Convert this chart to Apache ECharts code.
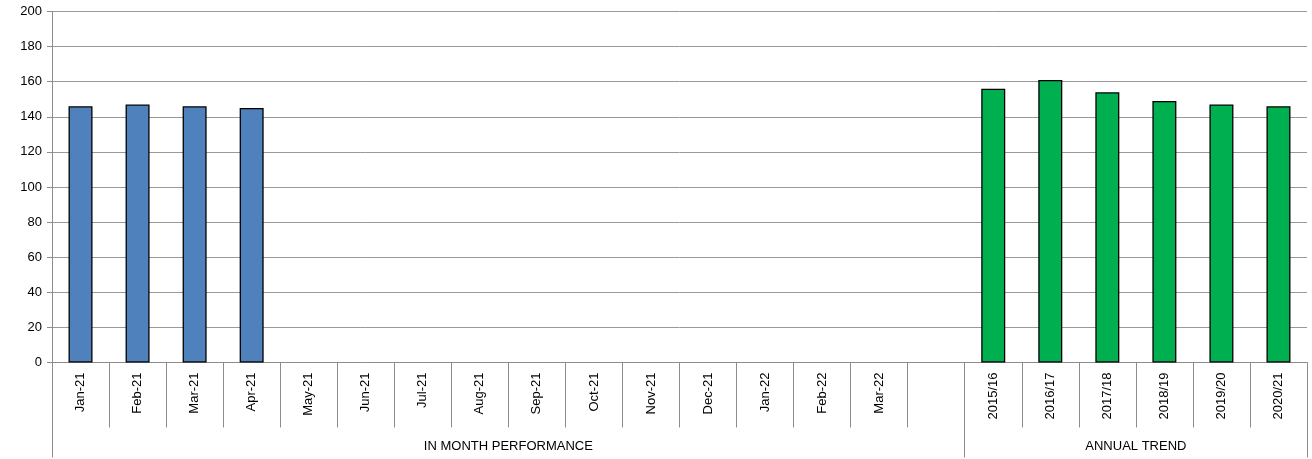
<!DOCTYPE html>
<html>
<head>
<meta charset="utf-8">
<script src="https://cdn.jsdelivr.net/npm/echarts@6/dist/echarts.min.js"></script>
<style>
  html, body { margin: 0; padding: 0; background: #fff; }
  #myChart { width: 1312px; height: 459px; }
</style>
</head>
<body>
<div id="myChart"></div>
<script>
// categories along the x axis (blank slot between the two groups)
var months = ['Jan-21', 'Feb-21', 'Mar-21', 'Apr-21', 'May-21', 'Jun-21', 'Jul-21', 'Aug-21',
  'Sep-21', 'Oct-21', 'Nov-21', 'Dec-21', 'Jan-22', 'Feb-22', 'Mar-22', '']
var years = ['2015/16', '2016/17', '2017/18', '2018/19', '2019/20', '2020/21']
// values
var monthValues = [146, 147, 146, 145, null, null, null, null, null, null, null, null, null, null, null, null]
var yearValues = [156, 161, 154, 149, 147, 146]
// group labels under the axis
var groupNames = ['IN MONTH PERFORMANCE', 'ANNUAL TREND']
var groupSizes = [months.length, years.length]
var yTicks = [0, 20, 40, 60, 80, 100, 120, 140, 160, 180, 200]

var categories = months.concat(years)
var total = categories.length
var blue = monthValues.concat(years.map(function () { return null }))
var green = months.map(function () { return null }).concat(yearValues)

var bounds = [0]
var mids = []
var acc = 0
for (var i = 0; i < groupSizes.length; i++) {
  mids.push(acc + groupSizes[i] / 2)
  acc += groupSizes[i]
  bounds.push(acc)
}

var gray = '#8c8c8c'
var font = 'Liberation Sans'

var myChart = echarts.init(document.getElementById('myChart'))
myChart.setOption({
  animation: false,
  textStyle: { fontFamily: font },
  grid: { left: 52, right: 5, top: 11.5, bottom: 96.5, containLabel: false },
  xAxis: [
    {
      type: 'category',
      data: categories,
      axisLine: { lineStyle: { color: gray, width: 1 } },
      axisTick: { show: true, interval: 0, length: 65, lineStyle: { color: gray } },
      axisLabel: { interval: 0, rotate: 90, margin: 10, color: '#000', fontSize: 13, fontFamily: font }
    },
    {
      type: 'value',
      position: 'bottom',
      min: 0,
      max: total,
      axisLine: { show: false },
      splitLine: { show: false },
      axisTick: { show: true, customValues: bounds, length: 95, lineStyle: { color: gray } },
      axisLabel: {
        customValues: mids,
        margin: 77,
        color: '#000',
        fontSize: 13,
        fontFamily: font,
        formatter: function (v) {
          var k = mids.indexOf(v)
          return k >= 0 ? groupNames[k] : ''
        }
      }
    }
  ],
  yAxis: {
    type: 'value',
    min: yTicks[0],
    max: yTicks[yTicks.length - 1],
    interval: yTicks[1] - yTicks[0],
    axisLine: { show: true, lineStyle: { color: gray } },
    axisTick: { show: true, length: 5, lineStyle: { color: gray } },
    axisLabel: { color: '#000', fontSize: 13, margin: 10, fontFamily: font },
    splitLine: { lineStyle: { color: '#999', width: 1 } }
  },
  series: [
    {
      type: 'bar',
      data: blue,
      barWidth: 24,
      barGap: '-100%',
      itemStyle: { color: '#4f81bd', borderColor: '#000', borderWidth: 1.3 }
    },
    {
      type: 'bar',
      data: green,
      barWidth: 24,
      itemStyle: { color: '#00b050', borderColor: '#000', borderWidth: 1.3 }
    }
  ]
})
</script>
</body>
</html>
